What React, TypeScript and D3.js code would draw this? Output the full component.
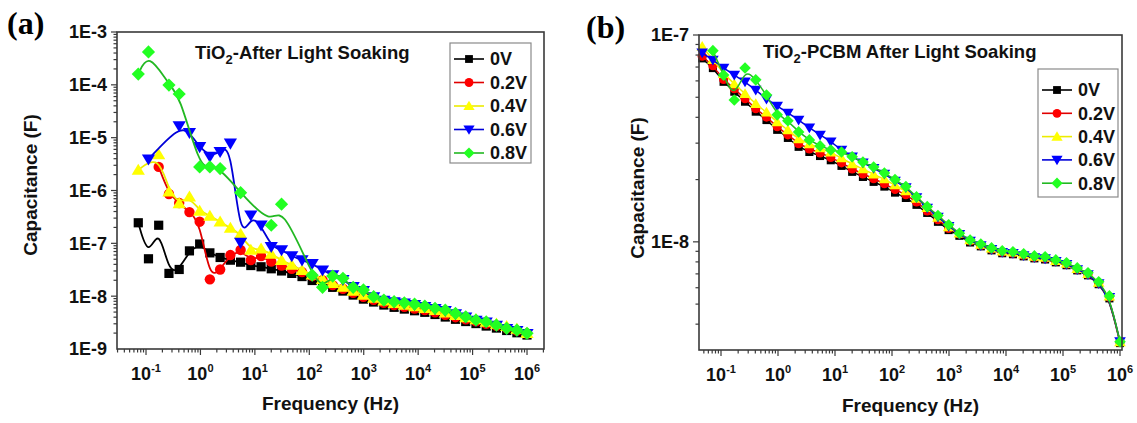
import React from "react";
import * as d3 from "d3";

// ---------- DATA ----------
const SERIES_NAMES = ["0V", "0.2V", "0.4V", "0.6V", "0.8V"];

// Panel (a): TiO2 - After Light Soaking
const FREQ_A = [0.0721, 0.111, 0.171, 0.264, 0.407, 0.628, 0.968, 1.49, 2.30, 3.55, 5.47, 8.43, 13.0, 20.0, 30.9, 47.6, 73.5, 113, 175, 269, 415, 640, 986, 1521, 2344, 3614, 5572, 8590, 13243, 20417, 31477, 48529, 74817, 115345, 177828, 274157, 422669, 651628, 1000000];
const A_0V = [2.45e-7, 5.1e-8, 2.2e-7, 2.7e-8, 3.2e-8, 7.2e-8, 9.7e-8, 6.6e-8, 5.4e-8, 4.8e-8, 4.4e-8, 3.8e-8, 3.6e-8, 3.3e-8, 3.0e-8, 2.7e-8, 2.35e-8, 1.98e-8, 1.7e-8, 1.47e-8, 1.25e-8, 1.05e-8, 8.8e-9, 7.75e-9, 6.8e-9, 6.15e-9, 5.7e-9, 5.3e-9, 4.95e-9, 4.5e-9, 4.03e-9, 3.65e-9, 3.31e-9, 3.03e-9, 2.72e-9, 2.49e-9, 2.24e-9, 2.03e-9, 1.84e-9];
const A_02V = [null, null, 2.8e-6, 8.6e-7, 5.8e-7, 3.9e-7, 2.57e-7, 2.08e-8, 3.2e-8, 6.0e-8, 7.5e-8, 4.8e-8, 5.75e-8, 4.5e-8, 3.8e-8, 3.3e-8, 2.86e-8, 2.4e-8, 2.0e-8, 1.62e-8, 1.38e-8, 1.16e-8, 9.7e-9, 8.5e-9, 7.5e-9, 6.8e-9, 6.27e-9, 5.83e-9, 5.45e-9, 4.95e-9, 4.43e-9, 4.0e-9, 3.64e-9, 3.33e-9, 3.0e-9, 2.74e-9, 2.46e-9, 2.23e-9, 1.96e-9];
const A_04V = [2.45e-6, null, 4.8e-6, 9.5e-7, 5.7e-7, 7.6e-7, 4.1e-7, 3.3e-7, 2.57e-7, 1.95e-7, 1.5e-7, 7.5e-8, 7.9e-8, 6.3e-8, 4.8e-8, 3.9e-8, 3.1e-8, 2.55e-8, 2.1e-8, 1.76e-8, 1.5e-8, 1.26e-8, 1.06e-8, 9.3e-9, 8.2e-9, 7.4e-9, 6.85e-9, 6.36e-9, 5.94e-9, 5.4e-9, 4.84e-9, 4.38e-9, 3.97e-9, 3.64e-9, 3.26e-9, 2.99e-9, 2.69e-9, 2.4e-9, 2.0e-9];
const A_06V = [null, 3.9e-6, null, null, 1.66e-5, 1.24e-5, 6.7e-6, 4.4e-6, 5.4e-6, 7.8e-6, 1.03e-7, 3.4e-7, 2.2e-7, 8.6e-8, 7.5e-8, 5.75e-8, 4.8e-8, 4.1e-8, 3.1e-8, 2.5e-8, 2.05e-8, 1.5e-8, 1.27e-8, 9.6e-9, 8.3e-9, 7.7e-9, 7.3e-9, 6.9e-9, 6.3e-9, 5.75e-9, 5.3e-9, 4.6e-9, 3.97e-9, 3.45e-9, 3.2e-9, 2.78e-9, 2.4e-9, 2.22e-9, 1.94e-9];
const A_08V = [1.6e-4, 4.2e-4, null, 9.9e-5, 6.7e-5, null, 2.8e-6, 2.8e-6, 2.6e-6, null, 9.1e-7, null, null, 2.2e-7, 5.5e-7, null, null, 2.5e-8, 1.47e-8, 2.4e-8, 2.18e-8, 1.47e-8, 1.31e-8, 9.8e-9, 8.45e-9, 7.85e-9, 7.5e-9, 7.1e-9, 6.5e-9, 5.9e-9, 5.47e-9, 4.73e-9, 4.08e-9, 3.54e-9, 3.28e-9, 2.84e-9, 2.46e-9, 2.28e-9, 1.98e-9];

// Panel (b): TiO2-PCBM After Light Soaking
const FREQ_B = [0.0468, 0.0721, 0.111, 0.171, 0.264, 0.407, 0.628, 0.968, 1.49, 2.30, 3.55, 5.47, 8.43, 13.0, 20.0, 30.9, 47.6, 73.5, 113, 175, 269, 415, 640, 986, 1521, 2344, 3614, 5572, 8590, 13243, 20417, 31477, 48529, 74817, 115345, 177828, 274157, 422669, 651628, 1000000];
const B_0V = [7.71e-8, 6.92e-8, 5.94e-8, 5.32e-8, 4.76e-8, 4.26e-8, 3.88e-8, 3.48e-8, 3.18e-8, 2.88e-8, 2.72e-8, 2.60e-8, 2.48e-8, 2.33e-8, 2.18e-8, 2.06e-8, 1.95e-8, 1.85e-8, 1.73e-8, 1.63e-8, 1.51e-8, 1.38e-8, 1.25e-8, 1.14e-8, 1.07e-8, 9.93e-9, 9.51e-9, 9.10e-9, 8.81e-9, 8.71e-9, 8.51e-9, 8.32e-9, 8.22e-9, 7.96e-9, 7.71e-9, 7.28e-9, 6.89e-9, 6.24e-9, 5.33e-9, 3.24e-9];
const B_02V = [7.9e-8, 7.1e-8, 6.1e-8, 5.5e-8, 4.92e-8, 4.40e-8, 4.01e-8, 3.60e-8, 3.29e-8, 2.98e-8, 2.81e-8, 2.69e-8, 2.56e-8, 2.41e-8, 2.25e-8, 2.13e-8, 2.02e-8, 1.91e-8, 1.79e-8, 1.69e-8, 1.56e-8, 1.41e-8, 1.28e-8, 1.16e-8, 1.09e-8, 1.01e-8, 9.6e-9, 9.2e-9, 8.9e-9, 8.8e-9, 8.6e-9, 8.4e-9, 8.3e-9, 8.05e-9, 7.8e-9, 7.35e-9, 6.95e-9, 6.3e-9, 5.4e-9, 3.27e-9];
const B_04V = [8.8e-8, 7.6e-8, 6.5e-8, 5.8e-8, 5.2e-8, 4.65e-8, 4.23e-8, 3.80e-8, 3.47e-8, 3.14e-8, 2.97e-8, 2.84e-8, 2.71e-8, 2.54e-8, 2.38e-8, 2.25e-8, 2.12e-8, 2.01e-8, 1.88e-8, 1.76e-8, 1.62e-8, 1.46e-8, 1.31e-8, 1.18e-8, 1.10e-8, 1.02e-8, 9.7e-9, 9.3e-9, 9.0e-9, 8.9e-9, 8.7e-9, 8.5e-9, 8.4e-9, 8.1e-9, 7.85e-9, 7.4e-9, 7.0e-9, 6.35e-9, 5.45e-9, 3.28e-9];
const B_06V = [8.2e-8, 7.57e-8, 6.93e-8, 6.41e-8, 5.94e-8, 5.42e-8, 4.91e-8, 4.54e-8, 4.20e-8, 3.88e-8, 3.56e-8, 3.29e-8, 3.05e-8, 2.78e-8, 2.58e-8, 2.41e-8, 2.27e-8, 2.13e-8, 1.97e-8, 1.83e-8, 1.64e-8, 1.46e-8, 1.32e-8, 1.19e-8, 1.09e-8, 1.01e-8, 9.6e-9, 9.2e-9, 8.9e-9, 8.8e-9, 8.6e-9, 8.4e-9, 8.3e-9, 8.05e-9, 7.8e-9, 7.35e-9, 6.95e-9, 6.3e-9, 5.4e-9, 3.3e-9];
const B_08V = [null, 8.4e-8, 6.4e-8, 4.85e-8, 6.93e-8, 6.07e-8, 5.13e-8, 4.11e-8, 3.85e-8, 3.40e-8, 3.11e-8, 2.91e-8, 2.78e-8, 2.72e-8, 2.58e-8, 2.43e-8, 2.30e-8, 2.15e-8, 2.00e-8, 1.85e-8, 1.65e-8, 1.48e-8, 1.34e-8, 1.21e-8, 1.10e-8, 1.02e-8, 9.77e-9, 9.35e-9, 9.06e-9, 8.95e-9, 8.75e-9, 8.55e-9, 8.47e-9, 8.18e-9, 7.92e-9, 7.48e-9, 7.08e-9, 6.41e-9, 5.48e-9, 3.29e-9];

// Tick labels
const X_EXPONENTS = [-1, 0, 1, 2, 3, 4, 5, 6];
const Y_VALUES_A = [1e-9, 1e-8, 1e-7, 1e-6, 1e-5, 1e-4, 1e-3];
const Y_LABELS_A = ["1E-9", "1E-8", "1E-7", "1E-6", "1E-5", "1E-4", "1E-3"];
const Y_VALUES_B = [1e-8, 1e-7];
const Y_LABELS_B = ["1E-8", "1E-7"];

// ---------- STYLE ----------
const FONT = "'Liberation Sans', Arial, Helvetica, sans-serif";
const SERIF = "'Liberation Serif', 'Times New Roman', serif";
const STYLES = [
  { shape: "square", fill: "#000000", line: "#000000" },
  { shape: "circle", fill: "#ff0000", line: "#e00000" },
  { shape: "up", fill: "#ffff00", line: "#ecec00" },
  { shape: "down", fill: "#0000ff", line: "#0000d8" },
  { shape: "diamond", fill: "#22ff22", line: "#22b822" },
];

function markerPath(shape: string, k: number): string {
  switch (shape) {
    case "square": {
      const r = 4.6 * k;
      return `M${-r},${-r}H${r}V${r}H${-r}Z`;
    }
    case "circle": {
      const r = 5.2 * k;
      return `M${r},0A${r},${r} 0 1,1 ${-r},0A${r},${r} 0 1,1 ${r},0Z`;
    }
    case "up": {
      const r = 6 * k;
      return `M0,${-r * 1.05}L${r * 1.1},${r * 0.8}L${-r * 1.1},${r * 0.8}Z`;
    }
    case "down": {
      const r = 6 * k;
      return `M0,${r * 1.05}L${r * 1.1},${-r * 0.8}L${-r * 1.1},${-r * 0.8}Z`;
    }
    default: {
      const r = 6.6 * k;
      return `M0,${-r}L${r},0L0,${r}L${-r},0Z`;
    }
  }
}

type PanelProps = {
  left: number; right: number; top: number; bottom: number;
  xDom: [number, number]; yDom: [number, number];
  freq: number[]; series: (number | null)[][];
  yValues: number[]; yLabels: string[];
  markerK: number; lineW: number;
  legend: { x: number; y: number; w: number; h: number; row0: number; dy: number };
  title: { x: number; y: number; post: string };
  label: { text: string; x: number; y: number };
  yTitle: { x: number; y: number };
  xTitleY: number;
};

function Panel(p: PanelProps) {
  const xs = d3.scaleLog().domain(p.xDom).range([p.left, p.right]);
  const ys = d3.scaleLog().domain(p.yDom).range([p.bottom, p.top]);
  const axisColor = "#3a3a3a";

  const xTicks: { v: number; major: boolean }[] = [];
  for (let e = Math.floor(Math.log10(p.xDom[0])); e <= Math.ceil(Math.log10(p.xDom[1])); e++) {
    for (let m = 1; m <= 9; m++) {
      const v = m * Math.pow(10, e);
      if (v >= p.xDom[0] && v <= p.xDom[1]) xTicks.push({ v, major: m === 1 });
    }
  }
  const yTicks: { v: number; major: boolean }[] = [];
  for (let e = Math.floor(Math.log10(p.yDom[0])); e <= Math.ceil(Math.log10(p.yDom[1])); e++) {
    for (let m = 1; m <= 9; m++) {
      const v = m * Math.pow(10, e);
      if (v >= p.yDom[0] * 1.01 && v <= p.yDom[1] * 1.0001) yTicks.push({ v, major: m === 1 });
    }
  }

  const lineGen = d3
    .line<[number, number]>()
    .x((d) => xs(d[0]))
    .y((d) => ys(d[1]))
    .curve(d3.curveBasis);

  return (
    <g>
      <text x={p.label.x} y={p.label.y} fontFamily={SERIF} fontWeight="bold" fontSize={32} fill="#000">
        {p.label.text}
      </text>

      {p.series.map((s, si) => {
        const pts: [number, number][] = [];
        s.forEach((v, i) => {
          if (v !== null && v !== undefined) pts.push([p.freq[i], v]);
        });
        const st = STYLES[si];
        return (
          <g key={si}>
            <path d={lineGen(pts) || ""} fill="none" stroke={st.line} strokeWidth={p.lineW} />
            {pts.map((d, i) => (
              <path
                key={i}
                d={markerPath(st.shape, p.markerK)}
                transform={`translate(${xs(d[0])},${ys(d[1])})`}
                fill={st.fill}
              />
            ))}
          </g>
        );
      })}

      <rect x={p.left} y={p.top} width={p.right - p.left} height={p.bottom - p.top} fill="none" stroke={axisColor} strokeWidth={1.6} />

      {xTicks.map((t, i) => (
        <line key={i} x1={xs(t.v)} x2={xs(t.v)} y1={p.bottom} y2={p.bottom + (t.major ? 6 : 3.5)} stroke={axisColor} strokeWidth={1.2} />
      ))}
      {X_EXPONENTS.map((e) => (
        <text key={e} x={xs(Math.pow(10, e))} y={p.bottom + 31} textAnchor="middle" fontFamily={FONT} fontWeight="bold" fontSize={18} fill="#111">
          10<tspan dy={-8} fontSize={11}>{e}</tspan>
        </text>
      ))}

      {yTicks.map((t, i) => (
        <line key={i} x1={p.left - (t.major ? 6 : 3.5)} x2={p.left} y1={ys(t.v)} y2={ys(t.v)} stroke={axisColor} strokeWidth={1.2} />
      ))}
      {p.yValues.map((v, i) => (
        <text key={i} x={p.left - 10} y={ys(v)} dy="0.36em" textAnchor="end" fontFamily={FONT} fontWeight="bold" fontSize={18} fill="#111">
          {p.yLabels[i]}
        </text>
      ))}

      <text
        transform={`translate(${p.yTitle.x},${p.yTitle.y}) rotate(-90)`}
        textAnchor="middle"
        dy="0.36em"
        fontFamily={FONT}
        fontWeight="bold"
        fontSize={19}
        fill="#111"
      >
        Capacitance (F)
      </text>
      <text x={(p.left + p.right) / 2} y={p.xTitleY} textAnchor="middle" fontFamily={FONT} fontWeight="bold" fontSize={19} fill="#111">
        Frequency (Hz)
      </text>

      <text x={p.title.x} y={p.title.y} fontFamily={FONT} fontWeight="bold" fontSize={18.5} fill="#111">
        TiO<tspan dy={5} fontSize={13}>2</tspan>
        <tspan dy={-5}>{p.title.post}</tspan>
      </text>

      <rect x={p.legend.x} y={p.legend.y} width={p.legend.w} height={p.legend.h} fill="#fff" stroke="#8a8a8a" strokeWidth={1.2} />
      {SERIES_NAMES.map((name, i) => {
        const yy = p.legend.y + p.legend.row0 + i * p.legend.dy;
        const lx = p.legend.x + 4;
        const st = STYLES[i];
        return (
          <g key={name}>
            <line x1={lx} x2={lx + 30} y1={yy} y2={yy} stroke={st.line} strokeWidth={1.6} />
            <path d={markerPath(st.shape, 0.85)} transform={`translate(${lx + 15},${yy})`} fill={st.fill} />
            <text x={lx + 36} y={yy} dy="0.36em" fontFamily={FONT} fontWeight="bold" fontSize={18} fill="#111">
              {name}
            </text>
          </g>
        );
      })}
    </g>
  );
}

export default function App() {
  return (
    <svg width={1137} height={423} style={{ position: "absolute", left: 0, top: 0, background: "#fff" }}>
      <rect x={0} y={0} width={1137} height={423} fill="#fff" />
      <Panel
        left={117} right={544} top={32} bottom={349}
        xDom={[Math.pow(10, -1.533), Math.pow(10, 6.312)]}
        yDom={[1e-9, 1e-3]}
        freq={FREQ_A}
        series={[A_0V, A_02V, A_04V, A_06V, A_08V]}
        yValues={Y_VALUES_A} yLabels={Y_LABELS_A}
        markerK={1} lineW={1.8}
        legend={{ x: 450, y: 43, w: 81, h: 120, row0: 16, dy: 23.5 }}
        title={{ x: 195, y: 59, post: "-After Light Soaking" }}
        label={{ text: "(a)", x: 7, y: 34 }}
        yTitle={{ x: 30, y: 185 }}
        xTitleY={410}
      />
      <Panel
        left={699} right={1122} top={35} bottom={350}
        xDom={[Math.pow(10, -1.386), Math.pow(10, 6.035)]}
        yDom={[3.0e-9, 1e-7]}
        freq={FREQ_B}
        series={[B_0V, B_02V, B_04V, B_06V, B_08V]}
        yValues={Y_VALUES_B} yLabels={Y_LABELS_B}
        markerK={0.88} lineW={1.5}
        legend={{ x: 1038, y: 69, w: 80, h: 128, row0: 21, dy: 23.3 }}
        title={{ x: 763, y: 58, post: "-PCBM After Light Soaking" }}
        label={{ text: "(b)", x: 586, y: 38 }}
        yTitle={{ x: 637, y: 188 }}
        xTitleY={412}
      />
    </svg>
  );
}
